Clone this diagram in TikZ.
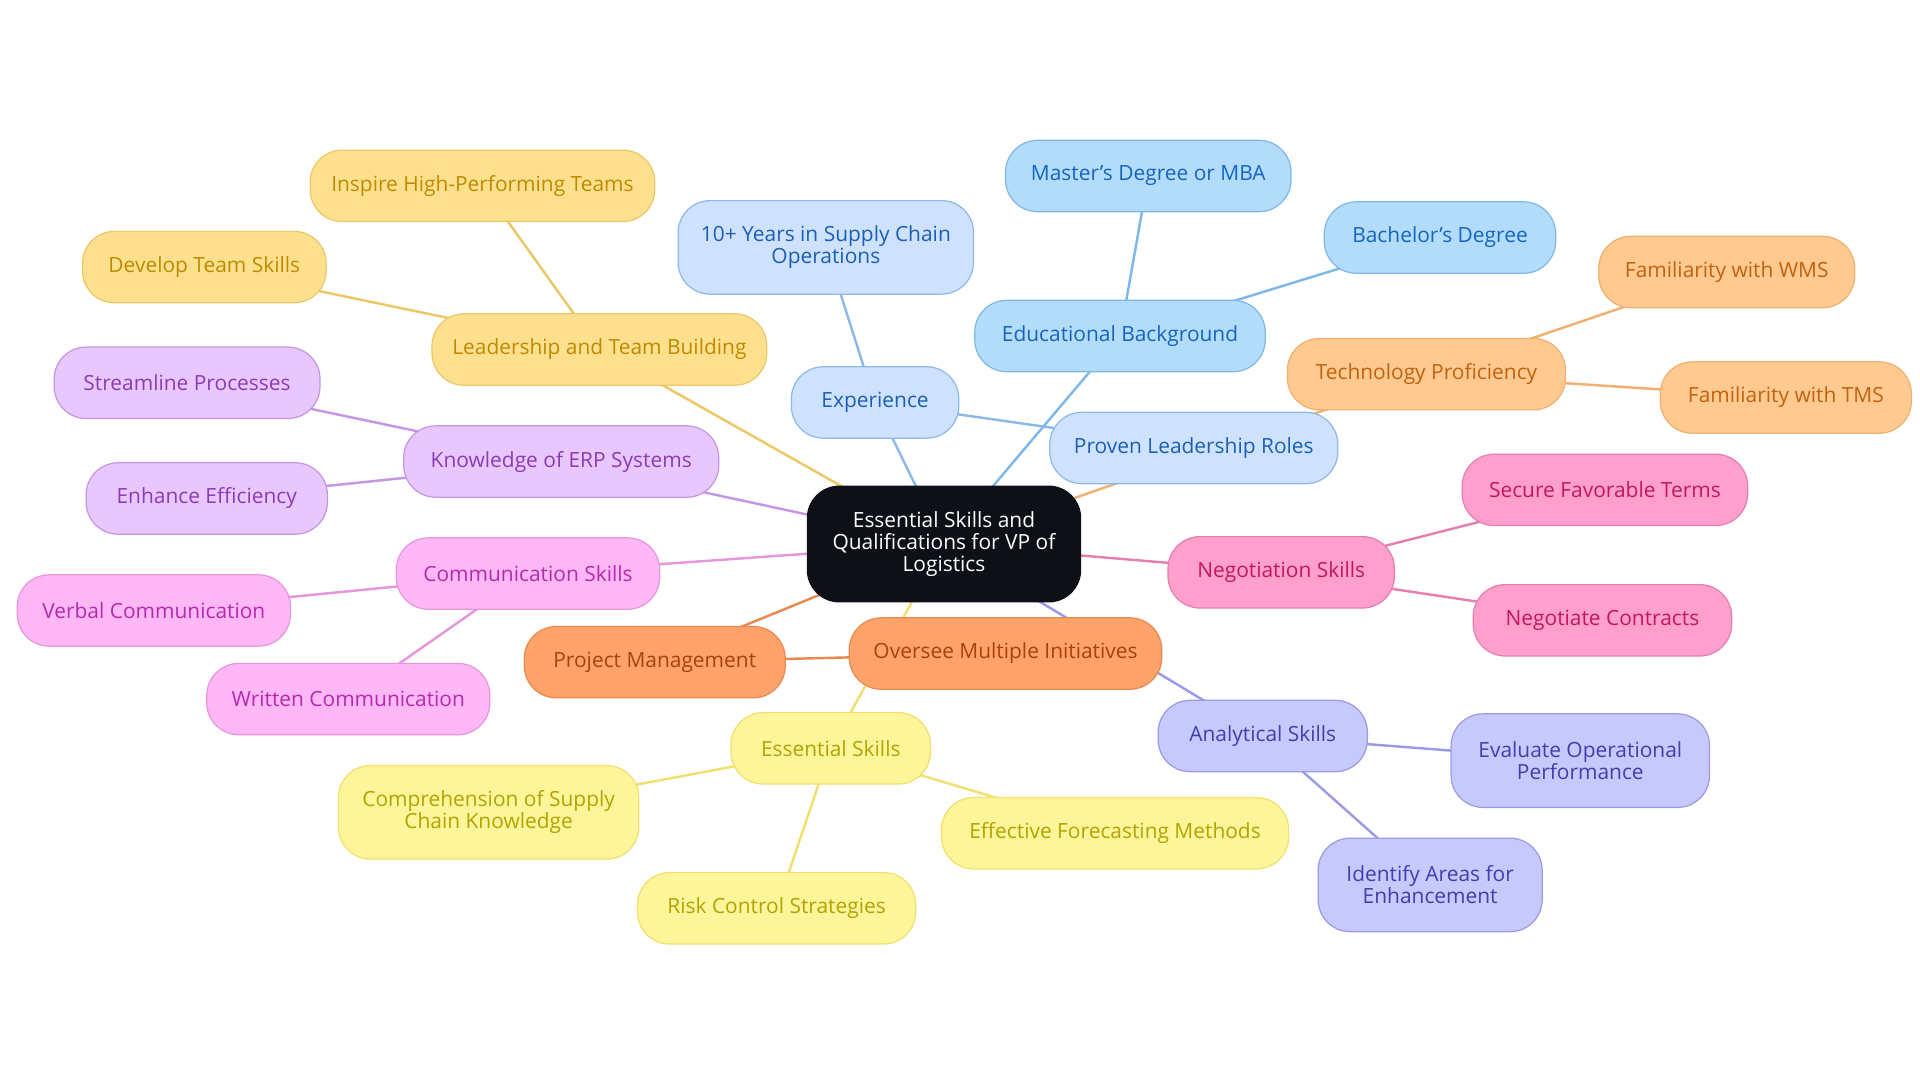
\documentclass[tikz,border=0pt]{standalone}
\usepackage{fontspec}
\setmainfont{Open Sans}
\usetikzlibrary{backgrounds}
\definecolor{cblk}{HTML}{0D1117}
\definecolor{fexp}{HTML}{CFE2FD}\definecolor{texp}{HTML}{1A5FB4}\definecolor{lexp}{HTML}{8DB9EA}
\definecolor{fedu}{HTML}{B3DCFB}\definecolor{tedu}{HTML}{1565C0}\definecolor{ledu}{HTML}{7DB8E8}
\definecolor{ftec}{HTML}{FFC98F}\definecolor{ttec}{HTML}{C0630F}\definecolor{ltec}{HTML}{F0B070}
\definecolor{fneg}{HTML}{FF9FCE}\definecolor{tneg}{HTML}{C2185B}\definecolor{lneg}{HTML}{E57FAF}
\definecolor{fana}{HTML}{C7C8FC}\definecolor{tana}{HTML}{3F3FB0}\definecolor{lana}{HTML}{9A9BE6}
\definecolor{fove}{HTML}{FFA36A}\definecolor{tove}{HTML}{A8420A}\definecolor{love}{HTML}{E88A50}
\definecolor{fess}{HTML}{FDF59A}\definecolor{tess}{HTML}{B3A300}\definecolor{less}{HTML}{F0E070}
\definecolor{fcom}{HTML}{FFB8F5}\definecolor{tcom}{HTML}{B529B0}\definecolor{lcom}{HTML}{E596DD}
\definecolor{ferp}{HTML}{E8C8FC}\definecolor{terp}{HTML}{8B3AB8}\definecolor{lerp}{HTML}{C396E6}
\definecolor{flea}{HTML}{FDE08E}\definecolor{tlea}{HTML}{C08A00}\definecolor{llea}{HTML}{EBC865}
\tikzset{
 box/.style={rounded corners=13pt,draw,line width=0.5pt,align=center,font=\fontsize{8.5}{9}\selectfont,minimum height=29pt,inner sep=3pt},
 g/.style 2 args={box,fill=f#1,text=t#1,draw=l#1,minimum width=#2*0.5pt},
 ln/.style={line width=1pt,draw=l#1},
}
\begin{document}
\begin{tikzpicture}[x=0.5pt,y=-0.5pt]
\useasboundingbox (0,0) rectangle (1560,880);
\node[box,fill=cblk,draw=cblk,text=white,minimum width=111pt,minimum height=47pt] (c) at (767,442) {Essential Skills and\\Qualifications for VP of\\Logistics};
\node[g={exp}{136}] (exp) at (711,327) {Experience};
\node[g={exp}{240},minimum height=38pt] (yrs) at (671,201) {10+ Years in Supply Chain\\Operations};
\node[g={exp}{234}] (pro) at (970,364) {Proven Leadership Roles};
\node[g={edu}{236}] (edu) at (910,273) {Educational Background};
\node[g={edu}{232}] (mas) at (933,143) {Master's Degree or MBA};
\node[g={edu}{188}] (bac) at (1170,193) {Bachelor's Degree};
\node[g={tec}{226}] (tec) at (1159,304) {Technology Proficiency};
\node[g={tec}{208}] (wms) at (1403,221) {Familiarity with WMS};
\node[g={tec}{204}] (tms) at (1451,323) {Familiarity with TMS};
\node[g={neg}{184}] (neg) at (1041,465) {Negotiation Skills};
\node[g={neg}{232}] (sec) at (1304,398) {Secure Favorable Terms};
\node[g={neg}{210}] (con) at (1302,504) {Negotiate Contracts};
\node[g={ana}{170}] (ana) at (1026,598) {Analytical Skills};
\node[g={ana}{210},minimum height=38pt] (eva) at (1284,618) {Evaluate Operational\\Performance};
\node[g={ana}{182},minimum height=38pt] (ide) at (1162,719) {Identify Areas for\\Enhancement};
\node[g={ove}{254}] (ove) at (817,531) {Oversee Multiple Initiatives};
\node[g={ove}{212}] (pm) at (532,538) {Project Management};
\node[g={ess}{162}] (ess) at (675,608) {Essential Skills};
\node[g={ess}{244},minimum height=38pt] (cmp) at (397,660) {Comprehension of Supply\\Chain Knowledge};
\node[g={ess}{282}] (for) at (906,677) {Effective Forecasting Methods};
\node[g={ess}{226}] (rsk) at (631,738) {Risk Control Strategies};
\node[g={com}{214}] (com) at (429,466) {Communication Skills};
\node[g={com}{222}] (ver) at (125,496) {Verbal Communication};
\node[g={com}{230}] (wri) at (283,568) {Written Communication};
\node[g={erp}{256}] (erp) at (456,375) {Knowledge of ERP Systems};
\node[g={erp}{216}] (str) at (152,311) {Streamline Processes};
\node[g={erp}{196}] (enh) at (168,405) {Enhance Efficiency};
\node[g={lea}{272}] (lea) at (487,284) {Leadership and Team Building};
\node[g={lea}{280}] (ins) at (392,151) {Inspire High-Performing Teams};
\node[g={lea}{198}] (dev) at (166,217) {Develop Team Skills};
\begin{scope}[on background layer]
\draw[ln=exp] (c.center) -- (exp.center) (exp.center) -- (yrs.center) (exp.center) -- (pro.center);
\draw[ln=edu] (c.center) -- (edu.center) (edu.center) -- (mas.center) (edu.center) -- (bac.center);
\draw[ln=tec] (c.center) -- (tec.center) (tec.center) -- (wms.center) (tec.center) -- (tms.center);
\draw[ln=neg] (c.center) -- (neg.center) (neg.center) -- (sec.center) (neg.center) -- (con.center);
\draw[ln=ana] (c.center) -- (ana.center) (ana.center) -- (eva.center) (ana.center) -- (ide.center);
\draw[ln=ove] (c.center) -- (pm.center) (pm.center) -- (ove.center);
\draw[ln=ess] (c.center) -- (ess.center) (ess.center) -- (cmp.center) (ess.center) -- (for.center) (ess.center) -- (rsk.center);
\draw[ln=com] (c.center) -- (com.center) (com.center) -- (ver.center) (com.center) -- (wri.center);
\draw[ln=erp] (c.center) -- (erp.center) (erp.center) -- (str.center) (erp.center) -- (enh.center);
\draw[ln=lea] (c.center) -- (lea.center) (lea.center) -- (ins.center) (lea.center) -- (dev.center);
\end{scope}
\end{tikzpicture}
\end{document}
